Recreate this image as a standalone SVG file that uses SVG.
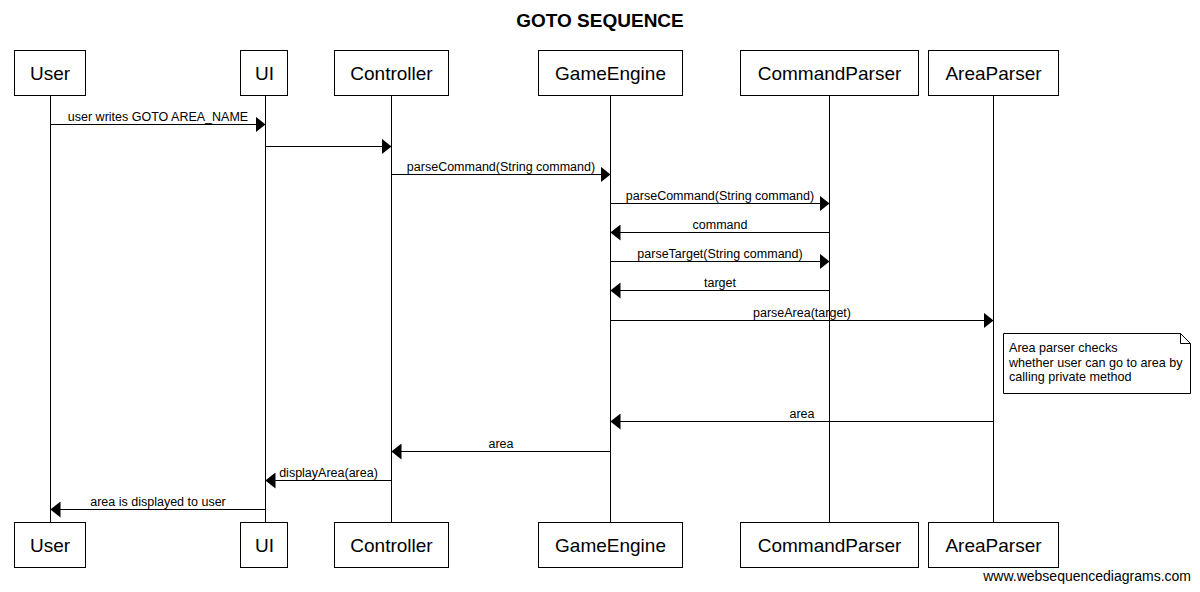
<svg xmlns="http://www.w3.org/2000/svg" width="1200" height="592" viewBox="0 0 1200 592">
<style>
  text { font-family: "Liberation Sans", Arial, sans-serif; fill: #000; }
  .title { font-size: 19px; font-weight: bold; text-anchor: middle; }
  .box { fill: #fff; stroke: #000; stroke-width: 1; }
  .pname { font-size: 19px; text-anchor: middle; }
  .life { stroke: #000; stroke-width: 1; }
  .msg { stroke: #000; stroke-width: 1; fill: none; marker-end: url(#arrow); }
  .lbl { font-size: 12.5px; text-anchor: middle; }
  .note { fill: #fff; stroke: #000; stroke-width: 1; }
  .ntext { font-size: 12.6px; }
  .wm { font-size: 14px; text-anchor: end; }
</style>
<defs>
  <marker id="arrow" markerUnits="userSpaceOnUse" markerWidth="10" markerHeight="16" refX="10" refY="8" orient="auto">
    <path d="M0,0 L10,8 L0,16 Z" fill="#000"/>
  </marker>
</defs>
<rect width="1200" height="592" fill="#fff"/>
<text class="title" x="600" y="27">GOTO SEQUENCE</text>

<g id="lifelines">
  <line class="life" x1="50.5" y1="95" x2="50.5" y2="523"/>
  <line class="life" x1="265.5" y1="95" x2="265.5" y2="523"/>
  <line class="life" x1="391.5" y1="95" x2="391.5" y2="523"/>
  <line class="life" x1="610.5" y1="95" x2="610.5" y2="523"/>
  <line class="life" x1="829.5" y1="95" x2="829.5" y2="523"/>
  <line class="life" x1="993.5" y1="95" x2="993.5" y2="523"/>
</g>

<g id="User">
  <rect class="box" x="14.5" y="50.5" width="71" height="45"/>
  <text class="pname" x="50" y="79.5">User</text>
  <rect class="box" x="14.5" y="522.5" width="71" height="45"/>
  <text class="pname" x="50" y="551.5">User</text>
</g>
<g id="UI">
  <rect class="box" x="240.5" y="50.5" width="47" height="45"/>
  <text class="pname" x="264.5" y="79.5">UI</text>
  <rect class="box" x="240.5" y="522.5" width="47" height="45"/>
  <text class="pname" x="264.5" y="551.5">UI</text>
</g>
<g id="Controller">
  <rect class="box" x="334.5" y="50.5" width="114" height="45"/>
  <text class="pname" x="391.5" y="79.5">Controller</text>
  <rect class="box" x="334.5" y="522.5" width="114" height="45"/>
  <text class="pname" x="391.5" y="551.5">Controller</text>
</g>
<g id="GameEngine">
  <rect class="box" x="538.5" y="50.5" width="144" height="45"/>
  <text class="pname" x="610.5" y="79.5">GameEngine</text>
  <rect class="box" x="538.5" y="522.5" width="144" height="45"/>
  <text class="pname" x="610.5" y="551.5">GameEngine</text>
</g>
<g id="CommandParser">
  <rect class="box" x="740.5" y="50.5" width="178" height="45"/>
  <text class="pname" x="829.5" y="79.5">CommandParser</text>
  <rect class="box" x="740.5" y="522.5" width="178" height="45"/>
  <text class="pname" x="829.5" y="551.5">CommandParser</text>
</g>
<g id="AreaParser">
  <rect class="box" x="928.5" y="50.5" width="130" height="45"/>
  <text class="pname" x="993.5" y="79.5">AreaParser</text>
  <rect class="box" x="928.5" y="522.5" width="130" height="45"/>
  <text class="pname" x="993.5" y="551.5">AreaParser</text>
</g>

<g id="connectors">
  <line class="msg" x1="50.5" y1="124.5" x2="265.5" y2="124.5"/>
  <text class="lbl" x="158" y="121">user writes GOTO AREA_NAME</text>

  <line class="msg" x1="265.5" y1="146.5" x2="391.5" y2="146.5"/>

  <line class="msg" x1="391.5" y1="174.5" x2="610.5" y2="174.5"/>
  <text class="lbl" x="501" y="171">parseCommand(String command)</text>

  <line class="msg" x1="610.5" y1="203.5" x2="829.5" y2="203.5"/>
  <text class="lbl" x="720" y="200">parseCommand(String command)</text>

  <line class="msg" x1="829.5" y1="232.5" x2="610.5" y2="232.5"/>
  <text class="lbl" x="720" y="229">command</text>

  <line class="msg" x1="610.5" y1="261.5" x2="829.5" y2="261.5"/>
  <text class="lbl" x="720" y="258">parseTarget(String command)</text>

  <line class="msg" x1="829.5" y1="290.5" x2="610.5" y2="290.5"/>
  <text class="lbl" x="720" y="287">target</text>

  <line class="msg" x1="610.5" y1="320.5" x2="993.5" y2="320.5"/>
  <text class="lbl" x="802" y="317">parseArea(target)</text>

  <line class="msg" x1="993.5" y1="421.5" x2="610.5" y2="421.5"/>
  <text class="lbl" x="802" y="418">area</text>

  <line class="msg" x1="610.5" y1="451.5" x2="391.5" y2="451.5"/>
  <text class="lbl" x="501" y="448">area</text>

  <line class="msg" x1="391.5" y1="480.5" x2="265.5" y2="480.5"/>
  <text class="lbl" x="328.5" y="477">displayArea(area)</text>

  <line class="msg" x1="265.5" y1="509.5" x2="50.5" y2="509.5"/>
  <text class="lbl" x="158" y="506">area is displayed to user</text>
</g>

<g id="note">
  <path class="note" d="M1003.5,333.5 H1180.5 L1190.5,343.5 V393.5 H1003.5 Z"/>
  <path d="M1180.5,333.5 V343.5 H1190.5" fill="none" stroke="#000" stroke-width="1"/>
  <text class="ntext" x="1009" y="352">Area parser checks</text>
  <text class="ntext" x="1009" y="367">whether user can go to area by</text>
  <text class="ntext" x="1009" y="381">calling private method</text>
</g>

<text class="wm" x="1191" y="581">www.websequencediagrams.com</text>
</svg>
